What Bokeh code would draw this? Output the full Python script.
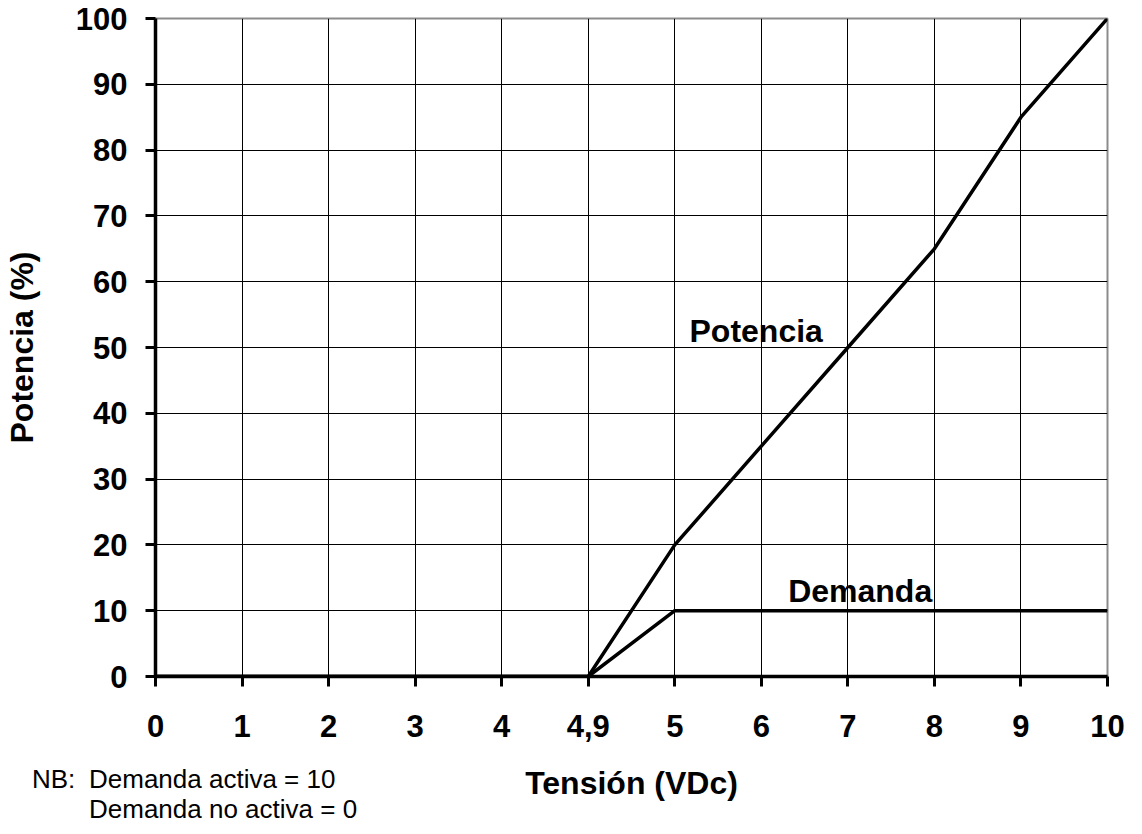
from bokeh.plotting import figure
from bokeh.models import Range1d, FixedTicker, Label, Div
from bokeh.layouts import column
from bokeh.embed import file_html
from bokeh.resources import INLINE

# ---- data ----
tension_labels = ["0", "1", "2", "3", "4", "4,9", "5", "6", "7", "8", "9", "10"]
potencia = [0, 0, 0, 0, 0, 0, 20, 35, 50, 65, 85, 100]
demanda = [0, 0, 0, 0, 0, 0, 10, 10, 10, 10, 10, 10]
y_ticks = [0, 10, 20, 30, 40, 50, 60, 70, 80, 90, 100]
note_lines = [("NB:", "Demanda activa = 10"), ("", "Demanda no activa = 0")]

x_idx = list(range(len(tension_labels)))
FONT = "Liberation Sans"

p = figure(
    width=1126, height=818,
    min_border_left=147, min_border_right=19, min_border_top=18, min_border_bottom=142,
    x_range=Range1d(0, len(tension_labels) - 1), y_range=Range1d(0, 100),
    output_backend="svg", toolbar_location=None,
    background_fill_color="white", border_fill_color="white",
)

p.line(x_idx, potencia, line_color="black", line_width=3.5)
p.line(x_idx, demanda, line_color="black", line_width=3.5)

# axes
p.xaxis.ticker = FixedTicker(ticks=x_idx)
p.xaxis.major_label_overrides = {i: lab for i, lab in enumerate(tension_labels)}
p.yaxis.ticker = FixedTicker(ticks=y_ticks)
for ax in (p.xaxis[0], p.yaxis[0]):
    ax.axis_line_color = "black"
    ax.axis_line_width = 3.5
    ax.major_tick_line_color = "black"
    ax.major_tick_line_width = 3
    ax.major_tick_out = 10
    ax.major_tick_in = 0
    ax.minor_tick_line_color = None
    ax.major_label_text_font = FONT
    ax.major_label_text_font_style = "bold"
    ax.major_label_text_font_size = "31px"
    ax.major_label_text_color = "black"
    ax.axis_label_text_font = FONT
    ax.axis_label_text_font_style = "bold"
    ax.axis_label_text_font_size = "32px"
    ax.axis_label_text_color = "black"

p.xaxis.axis_label = "Tensión (VDc)"
p.yaxis.axis_label = "Potencia (%)"
p.xaxis.major_label_standoff = 28
p.yaxis.major_label_standoff = 18
p.xaxis.axis_label_standoff = 25
p.yaxis.axis_label_standoff = 33

# grid
p.xgrid.ticker = FixedTicker(ticks=x_idx[1:-1])
p.ygrid.ticker = FixedTicker(ticks=y_ticks[1:-1])
p.xgrid.grid_line_color = "black"
p.ygrid.grid_line_color = "black"
p.xgrid.grid_line_width = 1
p.ygrid.grid_line_width = 1

p.outline_line_color = "#8c8c8c"
p.outline_line_width = 2

# series labels
p.add_layout(Label(x=6.17, y=52.5, text="Potencia", text_font=FONT, text_font_size="32px",
                   text_font_style="bold", text_color="black", text_baseline="alphabetic"))
p.add_layout(Label(x=7.31, y=13, text="Demanda", text_font=FONT, text_font_size="32px",
                   text_font_style="bold", text_color="black", text_baseline="alphabetic"))

# note below the chart (HTML text overlapping the figure's bottom border area)
rows = "".join(
    f'<div style="white-space:nowrap;height:29.5px"><span style="display:inline-block;width:57px">{a}</span>{b}</div>'
    for a, b in note_lines
)
note = Div(
    text=f'<div style="font-family:\'Liberation Sans\',Arial,sans-serif;font-size:26px;'
         f'line-height:29.5px;color:#000;margin:0;padding:0">{rows}</div>',
    width=420, height=53, margin=(-53, 0, 0, 32),
)

layout = column(p, note, spacing=0)
open("out.html", "w").write(file_html(layout, INLINE))
